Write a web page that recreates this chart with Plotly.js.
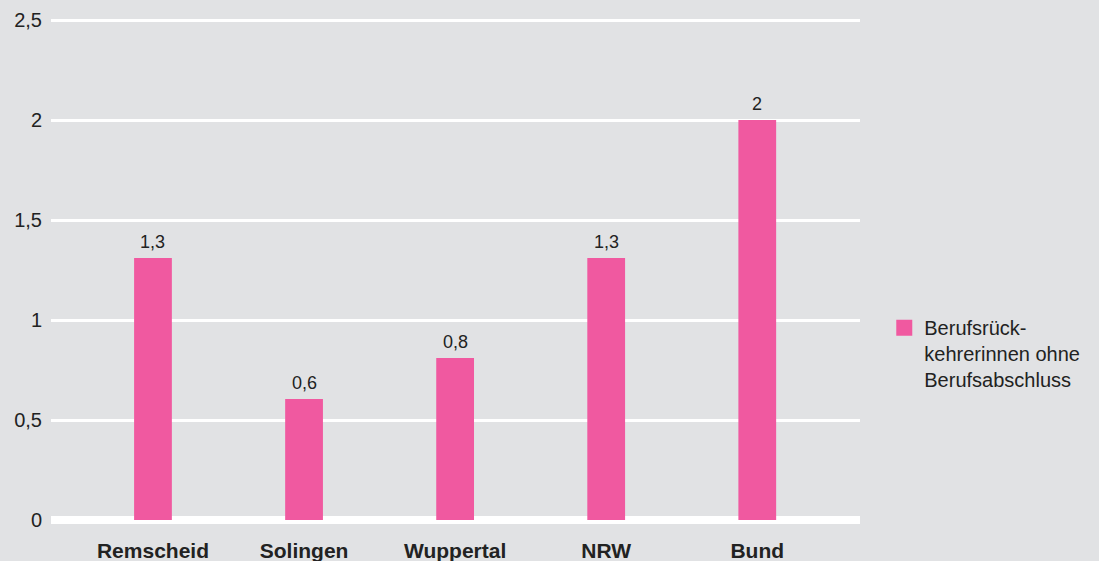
<!DOCTYPE html>
<html>
<head>
<meta charset="utf-8">
<script src="https://cdn.plot.ly/plotly-3.0.1.min.js"></script>
<style>html,body{margin:0;padding:0;background:#e1e2e4;}#chart{width:1099px;height:561px;}</style>
</head>
<body>
<div id="chart"></div>
<script>
const categories = ["Remscheid", "Solingen", "Wuppertal", "NRW", "Bund"];
const values = [1.31, 0.605, 0.81, 1.31, 2.0];
const valueLabels = ["1,3", "0,6", "0,8", "1,3", "2"];
const seriesName = "Berufsrück-<br>kehrerinnen ohne<br>Berufsabschluss";
const yTickVals = [0, 0.5, 1, 1.5, 2, 2.5];
const yTickText = ["0", "0,5", "1", "1,5", "2", "2,5"];

const FONT = "Liberation Sans, Arial, sans-serif";
const PINK = "#f059a0";

const bars = {
  type: "bar",
  x: categories,
  y: values,
  name: seriesName,
  marker: {color: PINK},
  width: 0.25,
  showlegend: false,
  hoverinfo: "skip"
};

const legendItem = {
  type: "scatter",
  mode: "markers",
  x: [null],
  y: [null],
  name: seriesName,
  marker: {symbol: "square", size: 16, color: PINK},
  showlegend: true,
  hoverinfo: "skip"
};

const valueAnnotations = categories.map((c, i) => ({
  x: c,
  y: values[i],
  xref: "x",
  yref: "y",
  text: valueLabels[i],
  showarrow: false,
  yanchor: "bottom",
  yshift: 4,
  font: {family: FONT, size: 18, color: "#222"}
}));

const layout = {
  width: 1099, height: 561,
  paper_bgcolor: "#e1e2e4",
  plot_bgcolor: "#e1e2e4",
  margin: {l: 51, r: 239, t: 18, b: 41},
  font: {family: FONT, color: "#222"},
  xaxis: {
    type: "category",
    range: [-0.675, 4.68],
    showgrid: false,
    showline: false,
    zeroline: false,
    tickfont: {size: 21, color: "#222", family: FONT, weight: "bold"},
    ticklabelstandoff: 16,
    fixedrange: true
  },
  yaxis: {
    range: [0, 2.51],
    tickvals: yTickVals,
    ticktext: yTickText,
    showgrid: true,
    gridcolor: "#ffffff",
    gridwidth: 3,
    zeroline: true,
    zerolinecolor: "#ffffff",
    zerolinewidth: 8,
    showline: false,
    tickfont: {size: 20, color: "#222"},
    ticklabelstandoff: 8,
    fixedrange: true
  },
  annotations: valueAnnotations,
  showlegend: true,
  legend: {
    x: 1.03, xanchor: "left",
    y: 0.422, yanchor: "top",
    valign: "top",
    bgcolor: "rgba(0,0,0,0)",
    font: {size: 20, color: "#222"},
    itemwidth: 30
  }
};

Plotly.newPlot("chart", [bars, legendItem], layout, {displayModeBar: false, staticPlot: true});
</script>
</body>
</html>
